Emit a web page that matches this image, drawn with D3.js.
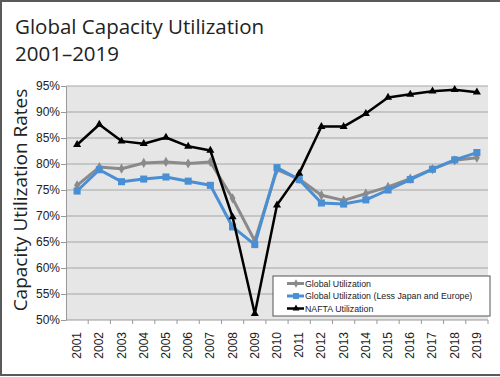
<!DOCTYPE html>
<html>
<head>
<meta charset="utf-8">
<script src="https://cdn.jsdelivr.net/npm/d3@7"></script>
<style>
  body { margin: 0; background: #fff; }
  svg { display: block; }
</style>
</head>
<body>
<div id="chart"></div>
<script>
// Data
const years = ["2001","2002","2003","2004","2005","2006","2007","2008","2009","2010",
               "2011","2012","2013","2014","2015","2016","2017","2018","2019"];
const globalUtil = [75.9, 79.4, 79.1, 80.2, 80.4, 80.1, 80.4, 73.4, 65.2, 78.9,
                    77.1, 74.0, 73.0, 74.3, 75.6, 77.2, 79.0, 80.7, 81.2];
const globalLessJE = [74.8, 78.9, 76.6, 77.1, 77.5, 76.7, 75.9, 67.9, 64.5, 79.3,
                      77.0, 72.5, 72.3, 73.1, 75.0, 77.0, 79.0, 80.8, 82.2];
const naftaUtil = [83.7, 87.6, 84.4, 83.9, 85.1, 83.4, 82.6, 69.8, 51.2, 72.1,
                   78.2, 87.2, 87.2, 89.7, 92.8, 93.4, 94.0, 94.3, 93.8];
const yTicks = [50, 55, 60, 65, 70, 75, 80, 85, 90, 95];

const width = 500;
const height = 377;
const margin = { top: 86, right: 12, bottom: 57, left: 66 };

const svg = d3.select("#chart")
    .append("svg")
    .attr("width", width)
    .attr("height", height);

// frame round the picture (top, left, bottom)
svg.append("path")
    .attr("d", `M${width},1 H1 V${height - 2} H${width}`)
    .attr("fill", "none")
    .attr("stroke", "#5a5a5a")
    .attr("stroke-width", 2);

// Title
svg.append("text")
    .attr("x", 15).attr("y", 34)
    .style("font-family", "'Open Sans', sans-serif")
    .style("font-size", "20.5px")
    .attr("fill", "#222")
    .text("Global Capacity Utilization");
svg.append("text")
    .attr("x", 15).attr("y", 61)
    .style("font-family", "'Open Sans', sans-serif")
    .style("font-size", "20.5px")
    .attr("fill", "#222")
    .text("2001–2019");

const plotW = width - margin.left - margin.right;
const plotH = height - margin.top - margin.bottom;

const x = d3.scaleBand()
    .domain(years)
    .range([margin.left, margin.left + plotW]);

const y = d3.scaleLinear()
    .domain([50, 95])
    .range([margin.top + plotH, margin.top]);

// plot background
svg.append("rect")
    .attr("x", margin.left)
    .attr("y", margin.top)
    .attr("width", plotW)
    .attr("height", plotH)
    .attr("fill", "#e6e6e6");

// gridlines
svg.append("g")
    .selectAll("line")
    .data(yTicks.filter(d => d > 50))
    .join("line")
    .attr("x1", margin.left)
    .attr("x2", margin.left + plotW)
    .attr("y1", d => y(d))
    .attr("y2", d => y(d))
    .attr("stroke", "#a6a6a6")
    .attr("stroke-width", 1);

// y axis
const yAxis = svg.append("g")
    .attr("transform", `translate(${margin.left},0)`)
    .call(d3.axisLeft(y).tickValues(yTicks).tickFormat(d => d + "%").tickSize(5).tickSizeOuter(0));
yAxis.select(".domain").attr("stroke", "#999");
yAxis.selectAll(".tick line").attr("stroke", "#999");
yAxis.selectAll("text")
    .style("font-family", "'Liberation Sans', Arial, sans-serif")
    .style("font-size", "12px")
    .attr("fill", "#222")
    .attr("x", -6);

// x axis, ticks between categories
const xAxis = svg.append("g")
    .attr("transform", `translate(0,${margin.top + plotH})`);
xAxis.append("line")
    .attr("x1", margin.left).attr("x2", margin.left + plotW)
    .attr("stroke", "#999");
xAxis.selectAll(".sep")
    .data(years)
    .join("line")
    .attr("class", "sep")
    .attr("x1", d => x(d) + x.bandwidth())
    .attr("x2", d => x(d) + x.bandwidth())
    .attr("y1", 0).attr("y2", 4)
    .attr("stroke", "#999");
xAxis.selectAll(".lab")
    .data(years)
    .join("text")
    .attr("class", "lab")
    .attr("transform", d => `translate(${x(d) + x.bandwidth() / 2 + 4},${12}) rotate(-90)`)
    .attr("text-anchor", "end")
    .style("font-family", "'Liberation Sans', Arial, sans-serif")
    .style("font-size", "12px")
    .attr("fill", "#222")
    .text(d => d);

// y axis title
svg.append("text")
    .attr("transform", `translate(27,${margin.top + plotH / 2 - 3}) rotate(-90)`)
    .attr("text-anchor", "middle")
    .style("font-family", "'Open Sans', sans-serif")
    .style("font-size", "19px")
    .attr("fill", "#222")
    .text("Capacity Utilization Rates");

const cx = d => x(d) + x.bandwidth() / 2;

const series = [
    { name: "Global Utilization", values: globalUtil, color: "#8a8a8a", width: 3, marker: d3.symbolDiamond, size: 30 },
    { name: "Global Utilization (Less Japan and Europe)", values: globalLessJE, color: "#4a8fd4", width: 3, marker: d3.symbolSquare, size: 50 },
    { name: "NAFTA Utilization", values: naftaUtil, color: "#000000", width: 2.5, marker: d3.symbolTriangle, size: 28 }
];

const line = d3.line()
    .x((d, i) => cx(years[i]))
    .y(d => y(d));

series.forEach(s => {
    svg.append("path")
        .datum(s.values)
        .attr("d", line)
        .attr("fill", "none")
        .attr("stroke", s.color)
        .attr("stroke-width", s.width)
        .attr("stroke-linejoin", "round");
    svg.append("g")
        .selectAll("path")
        .data(s.values)
        .join("path")
        .attr("transform", (d, i) => `translate(${cx(years[i])},${y(d)})`)
        .attr("d", d3.symbol().type(s.marker).size(s.size))
        .attr("fill", s.color);
});

// legend
const lg = svg.append("g").attr("transform", "translate(273,276)");
lg.append("rect")
    .attr("width", 217).attr("height", 40)
    .attr("fill", "#fff")
    .attr("stroke", "#555")
    .attr("stroke-width", 1);
series.forEach((s, i) => {
    const ly = 7.5 + i * 12.5;
    lg.append("line")
        .attr("x1", 14).attr("x2", 31)
        .attr("y1", ly).attr("y2", ly)
        .attr("stroke", s.color)
        .attr("stroke-width", s.width);
    lg.append("path")
        .attr("transform", `translate(23,${ly})`)
        .attr("d", d3.symbol().type(s.marker).size(s.size * 0.7))
        .attr("fill", s.color);
    lg.append("text")
        .attr("x", 32).attr("y", ly + 3.3)
        .style("font-family", "'Liberation Sans', Arial, sans-serif")
        .style("font-size", "8.8px")
        .attr("fill", "#222")
        .text(s.name);
});
</script>
</body>
</html>
